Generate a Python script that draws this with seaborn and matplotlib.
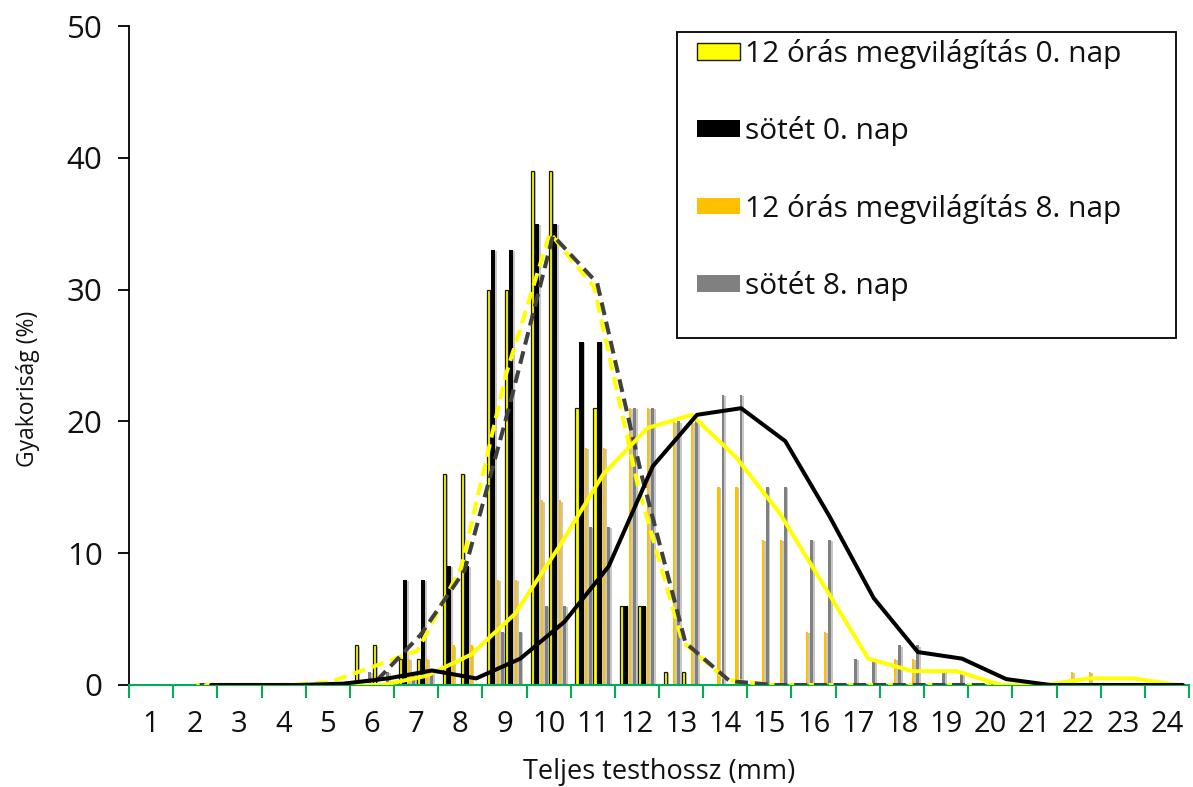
import numpy as np
import pandas as pd
import matplotlib
matplotlib.use("Agg")
import matplotlib.pyplot as plt
import matplotlib.patheffects as pe
from matplotlib.patches import Patch, Rectangle
import seaborn as sns

# Body length classes (mm)
categories = list(range(1, 25))

# Frequency (%) per length class
feny_0 = [0, 0, 0, 0, 0, 3, 2, 16, 30, 39, 21, 6, 1, 0, 0, 0, 0, 0, 0, 0, 0, 0, 0, 0]
sotet_0 = [0, 0, 0, 0, 0, 0, 8, 9, 33, 35, 26, 6, 0, 0, 0, 0, 0, 0, 0, 0, 0, 0, 0, 0]
feny_8 = [0, 0, 0, 0, 0, 0, 2, 3, 8, 14, 18, 21, 20, 15, 11, 4, 0, 2, 0, 0, 0, 1, 0, 0]
sotet_8 = [0, 0, 0, 0, 0, 1, 1, 0, 4, 6, 12, 21, 20, 22, 15, 11, 2, 3, 1, 0, 0, 0, 0, 0]

# Smoothed distribution curves
nan = np.nan
feny_0_curve = [nan, 0, 0, 0, 0.2, 1.4, 2.6, 9.0, 23.5, 34.3, 30.2, 15.0, 3.3, 0.4,
                0, 0, 0, 0, 0, 0, 0, 0, 0, 0]
sotet_0_curve = [nan, 0, 0, 0, 0, 0.3, 3.8, 8.7, 21.0, 34.1, 30.5, 16.0, 3.2, 0.3,
                 0, 0, 0, 0, 0, 0, 0, 0, 0, 0]
feny_8_curve = [nan, 0, 0, 0, 0, 0, 0.7, 2.3, 5.4, 10.5, 16.0, 19.5, 20.5, 17.3,
                13.0, 7.5, 2.0, 1.05, 1.05, 0, 0, 0.5, 0.5, 0]
sotet_8_curve = [nan, 0, 0, 0, 0.1, 0.5, 1.1, 0.5, 2.0, 4.8, 9.0, 16.6, 20.5, 21.0,
                 18.5, 12.8, 6.6, 2.5, 2.0, 0.45, 0, 0, 0, 0]

series_names = ["12 órás megvilágítás 0. nap", "sötét 0. nap",
                "12 órás megvilágítás 8. nap", "sötét 8. nap"]
bar_colors = ["#FFFF00", "#000000", "#FFC000", "#808080"]
bar_widths = [0.07, 0.092, 0.05, 0.066]
green = "#00B050"

sns.set_theme(style="white")
plt.rcParams["font.family"] = ["Open Sans", "DejaVu Sans"]

W, H = 1193, 787
fig = plt.figure(figsize=(W / 100, H / 100), dpi=100)
ax = fig.add_axes([129 / W, 1 - 685 / H, 1060 / W, 659 / H])

# every series appears twice inside each length class
rows = []
hue_order = []
for rep in (1, 2):
    for name, vals in zip(series_names, [feny_0, sotet_0, feny_8, sotet_8]):
        key = f"{name} ({rep})"
        hue_order.append(key)
        for c, v in zip(categories, vals):
            rows.append({"hossz": c, "gyakorisag": v, "sorozat": key})
bars = pd.DataFrame(rows)

sns.barplot(data=bars, x="hossz", y="gyakorisag", hue="sorozat", hue_order=hue_order,
            palette=bar_colors * 2, saturation=1, native_scale=True, width=0.815,
            dodge=True, errorbar=None, legend=False, ax=ax)

shadow = [pe.SimplePatchShadow(offset=(1.3, -0.8), shadow_rgbFace="#000000", alpha=0.22),
          pe.Normal()]
for i, cont in enumerate(ax.containers):
    k = i % 4
    w = bar_widths[k]
    for p in cont.patches:
        if p.get_height() <= 0:
            p.set_visible(False)
            continue
        cx = p.get_x() + p.get_width() / 2
        p.set_width(w)
        p.set_x(cx - w / 2)
        if k == 0:
            p.set_edgecolor("#1a1a00")
            p.set_linewidth(0.9)
        else:
            p.set_linewidth(0)
        p.set_path_effects(shadow)

curves = [
    (feny_0_curve, 0.03, "#FFFF00", (0, (3.2, 1.7))),
    (sotet_0_curve, 0.10, "#404040", (0, (3.2, 1.7))),
    (feny_8_curve, 0.24, "#FFFF00", "-"),
    (sotet_8_curve, 0.36, "#000000", "-"),
]
for vals, off, color, ls in curves:
    d = pd.DataFrame({"x": np.array(categories) + off, "y": vals}).dropna()
    sns.lineplot(data=d, x="x", y="y", color=color, linewidth=2.9, linestyle=ls,
                 errorbar=None, ax=ax, zorder=3)

ax.set_xlim(0.5, 24.5)
ax.set_ylim(0, 50)
ax.set_xticks(np.arange(0.5, 25, 1))
ax.set_xticklabels([])
ax.set_xticks(categories, minor=True)
ax.set_xticklabels([str(c) for c in categories], minor=True)
ax.tick_params(axis="x", which="major", length=9, width=1.5, color=green,
               direction="out", bottom=True)
ax.tick_params(axis="x", which="minor", length=0, labelsize=21, pad=18,
               labelcolor="#111111", bottom=True)
ax.set_yticks(range(0, 51, 10))
ax.tick_params(axis="y", length=8, width=1.3, color="black", direction="out",
               labelsize=22.5, pad=11, left=True, labelcolor="#111111")
for s in ["top", "right"]:
    ax.spines[s].set_visible(False)
ax.spines["bottom"].set_color(green)
ax.spines["bottom"].set_linewidth(1.5)
ax.spines["left"].set_color("black")
ax.spines["left"].set_linewidth(1.3)
ax.grid(False)

ax.set_xlabel("Teljes testhossz (mm)", fontsize=19.5, labelpad=14, color="#111111")
ax.set_ylabel("Gyakoriság (%)", fontsize=16.5, labelpad=19, color="#111111")
ax.yaxis.label.set_y(0.45)

# legend with a rectangular frame
frame = Rectangle((677 / W, 1 - 338 / H), (1176 - 677) / W, (338 - 32) / H,
                  transform=fig.transFigure, facecolor="white", edgecolor="black",
                  linewidth=1.3, zorder=4, clip_on=False)
ax.add_artist(frame)
handles = [Patch(facecolor=c, edgecolor=("#1a1a00" if i == 0 else c),
                 linewidth=(1.0 if i == 0 else 0)) for i, c in enumerate(bar_colors)]
leg = ax.legend(handles, series_names, loc="upper left",
                bbox_to_anchor=(697 / W, 1 - 39 / H), bbox_transform=fig.transFigure,
                frameon=False, fontsize=21.5, handlelength=1.45, handleheight=0.47,
                handletextpad=0.16, labelspacing=1.585, borderpad=0, borderaxespad=0)
leg.set_zorder(5)
for t in leg.get_texts():
    t.set_color("#111111")

fig.savefig("out.png", dpi=100)
